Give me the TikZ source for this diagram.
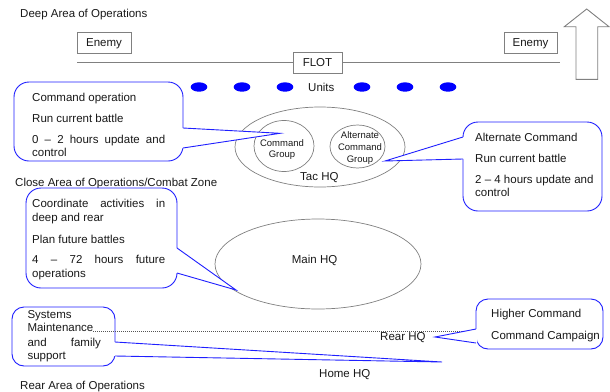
\documentclass[tikz,border=0pt]{standalone}
\usepackage{fontspec}
\setmainfont{Liberation Sans}
\usetikzlibrary{shapes.geometric}
\definecolor{linegray}{HTML}{808080}
\definecolor{callblue}{HTML}{1F1FFF}
\definecolor{dotgray}{HTML}{555555}
\begin{document}
\begin{tikzpicture}[x=1pt,y=-1pt,
  every node/.style={font=\fontsize{11.5}{13}\selectfont, inner sep=0pt, text=black!90},
  lbl/.style={anchor=base west},
  smalllbl/.style={anchor=base, font=\fontsize{9.5}{11}\selectfont},
  graybox/.style={draw=linegray, line width=0.9pt, fill=white, text height=8.4pt,
    text depth=0pt, minimum height=21pt},
  zone/.style={ellipse, draw=linegray, line width=0.7pt},
  unit/.style={ellipse, fill=blue, minimum width=16.6pt, minimum height=9.4pt},
  callbox/.style={draw=callblue, line width=0.9pt, fill=white, rounded corners=#1},
  callline/.style={draw=callblue, line width=0.9pt, line join=miter},
  wedge/.style={fill=white},
  frontline/.style={draw=linegray, line width=0.9pt},
  arrowshape/.style={draw=linegray, line width=0.9pt, line join=miter},
  boundary/.style={draw=dotgray, line width=0.6pt, dash pattern=on 1pt off 1pt},
]
\useasboundingbox (0,0) rectangle (610,391);

% ---- deep area: front line, enemy, advance arrow ----
\node[lbl] (deep) at (20,17.5) {Deep Area of Operations};
\coordinate (flotL) at (77,62);
\coordinate (flotR) at (560,62);
\draw[frontline] (flotL) -- (flotR);
\node[graybox, minimum width=54pt] (enemyL) at (104,42.6) {Enemy};
\node[graybox, minimum width=53pt] (enemyR) at (530.5,42.6) {Enemy};
\node[graybox, minimum width=49pt] (flot) at (317.5,62.5) {FLOT};
\draw[arrowshape] (576,79.3) -- (576,26.7) -- (564.3,26.7) -- (586.7,9)
  -- (609,26.7) -- (597.7,26.7) -- (597.7,79.3) -- cycle;

% ---- units ----
\foreach \ux/\uname in {199/u1, 242/u2, 285/u3, 362/u4, 405/u5, 448/u6}
  \node[unit] (\uname) at (\ux,87) {};
\node[lbl] (units) at (308,91.7) {Units};

% ---- tactical headquarters ----
\node[zone, minimum width=170pt, minimum height=80pt] (tac) at (320,147) {};
\node[zone, minimum width=60pt, minimum height=51pt] (cmdgrp) at (284,146) {};
\node[zone, minimum width=55pt, minimum height=43pt] (altgrp) at (357.5,146.5) {};
\node[smalllbl] (cg1) at (282,146) {Command};
\node[smalllbl] (cg2) at (282,157.3) {Group};
\node[smalllbl] (ag1) at (360,138.3) {Alternate};
\node[smalllbl] (ag2) at (360,150) {Command};
\node[smalllbl] (ag3) at (360,162.7) {Group};
\node[lbl] (tachq) at (300,180) {Tac HQ};

\node[lbl] (close) at (15,186) {Close Area of Operations/Combat Zone};

% ---- main headquarters ----
\node[zone, minimum width=206pt, minimum height=90pt] (main) at (318,264) {};
\node[lbl] (mainhq) at (291.7,263.3) {Main HQ};

% ---- rear labels ----
\node[lbl] (rearhq) at (380,340.7) {Rear HQ};
\node[lbl] (homehq) at (319,377.3) {Home HQ};
\node[lbl] (rear) at (20,389) {Rear Area of Operations};

% ---- callout: command group ----
\draw[callbox=15] (14,82) rectangle (183,161);
\coordinate (c1a) at (183,128);
\coordinate (c1b) at (183,148);
\coordinate (t1) at (280,133.3);
\fill[wedge] ([xshift=-1.2pt]c1a) -- (c1a) -- (t1) -- (c1b) -- ([xshift=-1.2pt]c1b) -- cycle;
\draw[callline] (c1a) -- (t1) -- (c1b);
\node[lbl] (c1l1) at (32,101) {Command operation};
\node[lbl] (c1l2) at (32,122.3) {Run current battle};
\node[lbl] (c1l3) at (32,143.3) {\makebox[133pt][s]{0 – 2 hours update and}};
\node[lbl] (c1l4) at (32,156) {control};

% ---- callout: alternate command group ----
\draw[callbox=15] (463,122) rectangle (602,211);
\coordinate (c2a) at (463,137);
\coordinate (c2b) at (463,159);
\coordinate (t2) at (385,161);
\fill[wedge] ([xshift=1.2pt]c2a) -- (c2a) -- (t2) -- (c2b) -- ([xshift=1.2pt]c2b) -- cycle;
\draw[callline] (c2a) -- (t2) -- (c2b);
\node[lbl] (c2l1) at (475,141.7) {Alternate Command};
\node[lbl] (c2l2) at (475,162.7) {Run current battle};
\node[lbl] (c2l3) at (475,183.3) {2 – 4 hours update and};
\node[lbl] (c2l4) at (475,196.7) {control};

% ---- callout: main headquarters ----
\draw[callbox=15] (26,188) rectangle (177,288);
\coordinate (c3a) at (177,248);
\coordinate (c3b) at (177,273);
\coordinate (t3) at (236,290);
\fill[wedge] ([xshift=-1.2pt]c3a) -- (c3a) -- (t3) -- (c3b) -- ([xshift=-1.2pt]c3b) -- cycle;
\draw[callline] (c3a) -- (t3) -- (c3b);
\node[lbl] (c3l1) at (32,207.7) {\makebox[133pt][s]{Coordinate activities in}};
\node[lbl] (c3l2) at (32,221.7) {deep and rear};
\node[lbl] (c3l3) at (32,243.3) {Plan future battles};
\node[lbl] (c3l4) at (32,263.3) {\makebox[133pt][s]{4 – 72 hours future}};
\node[lbl] (c3l5) at (32,277.3) {operations};

% ---- callout: home headquarters ----
\draw[callbox=12] (12,307) rectangle (115,366);
\coordinate (c4a) at (115,342);
\coordinate (c4b) at (115,356);
\coordinate (t4) at (442,362);
\fill[wedge] ([xshift=-1.2pt]c4a) -- (c4a) -- (t4) -- (c4b) -- ([xshift=-1.2pt]c4b) -- cycle;
\draw[callline] (c4a) -- (t4) -- (c4b);
\node[lbl] (c4l1) at (27.3,318.3) {Systems};
\node[lbl] (c4l2) at (27.3,331.7) {Maintenance};
\node[lbl] (c4l3) at (27.3,346.7) {\makebox[73.4pt][s]{and family}};
\node[lbl] (c4l4) at (27.3,359.3) {support};

% ---- rear boundary ----
\coordinate (bndL) at (93,331);
\coordinate (bndR) at (477,331);
\draw[boundary] (bndL) -- (bndR);

% ---- callout: rear headquarters ----
\draw[callbox=12] (476,299) rectangle (603,349);
\coordinate (c5a) at (476,329);
\coordinate (c5b) at (476,343);
\coordinate (t5) at (435,337);
\fill[wedge] ([xshift=1.2pt]c5a) -- (c5a) -- (t5) -- (c5b) -- ([xshift=1.2pt]c5b) -- cycle;
\draw[callline] (c5a) -- (t5) -- (c5b);
\node[lbl] (c5l1) at (491,317.7) {Higher Command};
\node[lbl] (c5l2) at (491,339) {Command Campaign};
\end{tikzpicture}
\end{document}
